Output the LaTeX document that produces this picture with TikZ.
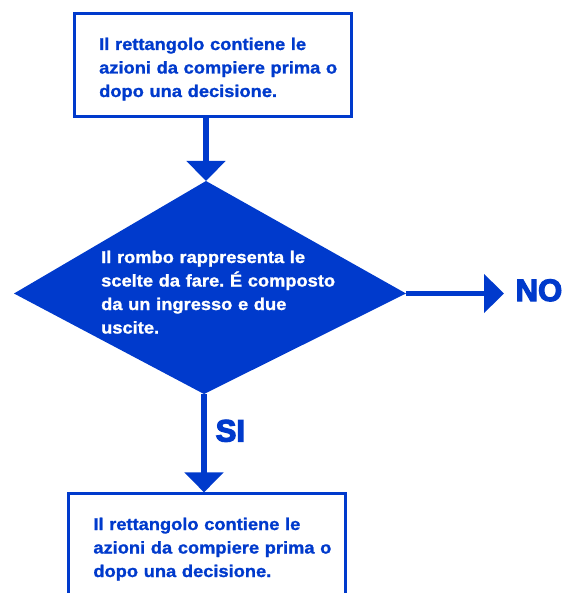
\documentclass[tikz,border=0pt]{standalone}
\usepackage{fontspec}
\setmainfont{Liberation Sans}
\newfontfamily\bodyfont{Liberation Sans Bold}[FakeStretch=1.075, FakeBold=1.2]
\newfontfamily\heavyfont{Liberation Sans Bold}[FakeBold=4]
\usetikzlibrary{arrows.meta}
\definecolor{fcblue}{RGB}{0,58,204}
\frenchspacing
\begin{document}
\begin{tikzpicture}[x=1pt,y=-1pt,
  box/.style={draw=fcblue, line width=3pt, rectangle, minimum width=276.5pt, minimum height=102.7pt, inner sep=0pt},
  txt/.style={font=\bodyfont\fontsize{17}{23.5}\selectfont, text width=270pt, align=left, inner sep=0pt, anchor=base west},
  heavy/.style={font=\heavyfont\fontsize{31}{36}\selectfont, text=fcblue, inner sep=0pt, anchor=base west},
  arr/.style={draw=fcblue, line width=5.5pt, -{Triangle[width=38pt,length=20pt]}, fill=fcblue}
]
\useasboundingbox (0,0) rectangle (569,593);
\clip (0,0) rectangle (569,593);
\node[box] (top) at (212.75,65.35) {};
\node[box] (bot) at (207,545.25) {};
% decision diamond
\coordinate (dt) at (206,181);
\coordinate (dl) at (14,293.5);
\coordinate (dr) at (406,293.5);
\coordinate (db) at (204,394);
\fill[fcblue] (dt) -- (dr) -- (db) -- (dl) -- cycle;
\node[txt, text=fcblue] (toptext) at (99,50) {Il rettangolo contiene le\\azioni da compiere prima o\\dopo una decisione.};
\node[txt, text=white] (diatext) at (101,263) {Il rombo rappresenta le\\scelte da fare. É composto\\da un ingresso e due\\uscite.};
\node[txt, text=fcblue] (bottext) at (93.2,530) {Il rettangolo contiene le\\azioni da compiere prima o\\dopo una decisione.};
\coordinate (noend) at (504,293.5);
\draw[arr] (top.south -| dt) -- (dt);
\draw[arr] (dr) -- (noend);
\draw[arr] (db) -- (db |- bot.north);
\node[heavy] (no) at (515.5,301) {NO};
\node[heavy] (si) at (215.5,441.5) {SI};
\end{tikzpicture}
\end{document}
